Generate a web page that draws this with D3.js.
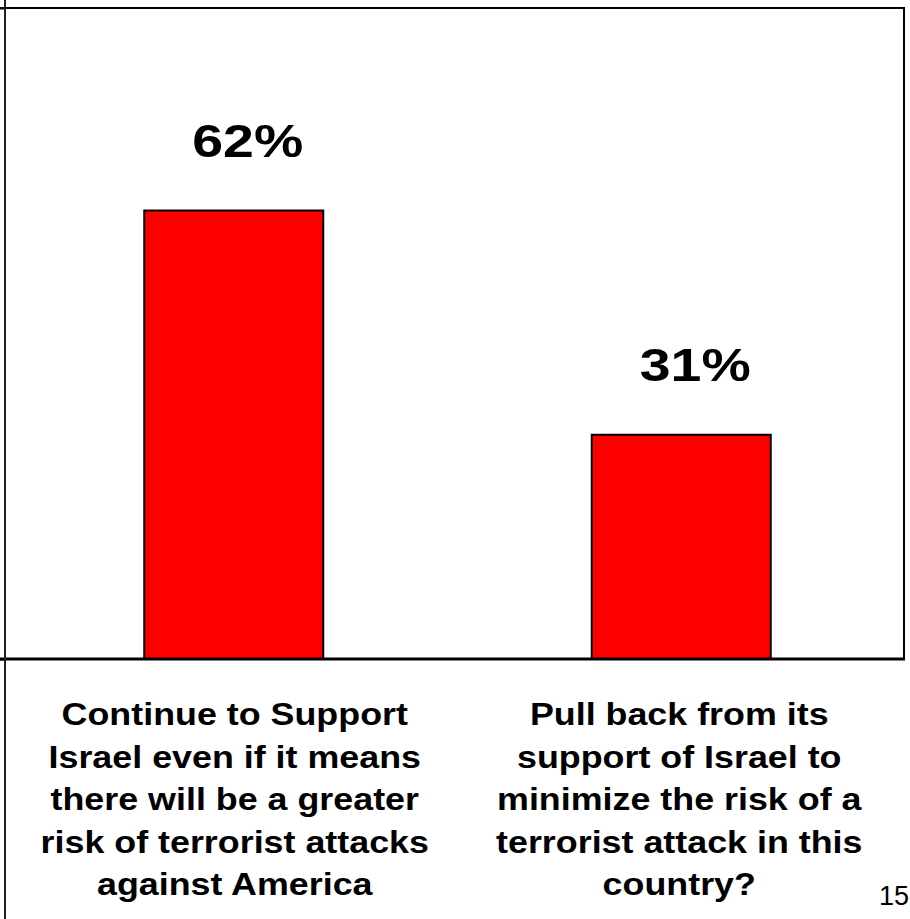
<!DOCTYPE html>
<html>
<head>
<meta charset="utf-8">
<script src="https://cdn.jsdelivr.net/npm/d3@7"></script>
<style>
  html, body { margin: 0; padding: 0; background: #fff; }
  svg { display: block; }
  text { font-family: "Liberation Sans", Arial, sans-serif; fill: #000; }
</style>
</head>
<body>
<svg id="chart" width="910" height="919"></svg>
<script>
// Data
const categories = ["support", "pullback"];
const categoryLines = [
  ["Continue to Support", "Israel even if it means", "there will be a greater", "risk of terrorist attacks", "against America"],
  ["Pull back from its", "support of Israel to", "minimize the risk of a", "terrorist attack in this", "country?"]
];
const values = [62, 31];
const valueLabels = ["62%", "31%"];
const yTicks = [0, 90];
const pageNumber = "15";

(function () {
const svg = d3.select("#chart");
const W = 910, H = 919;
const pLeft = 5, pRight = 904, pTop = 8, pBottom = 659;

const x = d3.scaleBand().domain(categories).range([10, 905])
  .paddingInner(0.6).paddingOuter(0.3);
const y = d3.scaleLinear().domain([0, 90]).range([pBottom, pTop]);

// Frame: top and right borders
svg.append("line").attr("x1", 0).attr("x2", pRight + 1).attr("y1", pTop).attr("y2", pTop)
  .attr("stroke", "#000").attr("stroke-width", 2);
svg.append("line").attr("x1", pRight).attr("x2", pRight).attr("y1", pTop).attr("y2", pBottom)
  .attr("stroke", "#000").attr("stroke-width", 2);

// Bars
svg.selectAll("rect.bar").data(values).enter().append("rect")
  .attr("class", "bar")
  .attr("x", (d, i) => x(categories[i]))
  .attr("width", x.bandwidth())
  .attr("y", d => y(d))
  .attr("height", d => y(0) - y(d))
  .attr("fill", "#ff0000")
  .attr("stroke", "#000")
  .attr("stroke-width", 2);

// Bottom baseline (x axis)
svg.append("line").attr("x1", 0).attr("x2", pRight + 1).attr("y1", pBottom).attr("y2", pBottom)
  .attr("stroke", "#000").attr("stroke-width", 3);

// Left axis (full-height line with ticks)
const yAxis = d3.axisLeft(y).tickValues(yTicks).tickSize(5).tickFormat("");
const ga = svg.append("g").attr("transform", `translate(${pLeft},0)`).call(yAxis);
ga.select(".domain").remove();
ga.selectAll(".tick line").attr("stroke", "#000").attr("stroke-width", 2);
svg.append("line").attr("x1", pLeft).attr("x2", pLeft).attr("y1", 0).attr("y2", H)
  .attr("stroke", "#222").attr("stroke-width", 2);

// Value labels
svg.selectAll("text.val").data(values).enter().append("text")
  .attr("class", "val")
  .attr("transform", (d, i) => `translate(${x(categories[i]) + x.bandwidth() / 2 + 14},${y(d) - 54}) scale(1.18,1)`)
  .attr("text-anchor", "middle")
  .attr("font-size", 47)
  .attr("font-weight", "bold")
  .text((d, i) => valueLabels[i]);

// Category labels
categories.forEach((c, i) => {
  const cx = x(c) + x.bandwidth() / 2 + (i === 0 ? 1 : -2);
  categoryLines[i].forEach((line, j) => {
    svg.append("text")
      .attr("transform", `translate(${cx},${725 + j * 42.5}) scale(1.12,1)`)
      .attr("text-anchor", "middle")
      .attr("font-size", 32)
      .attr("font-weight", "bold")
      .text(line);
  });
});

// Page number
svg.append("text").attr("x", 879).attr("y", 905)
  .attr("font-size", 27).text(pageNumber);
})();
</script>
</body>
</html>
